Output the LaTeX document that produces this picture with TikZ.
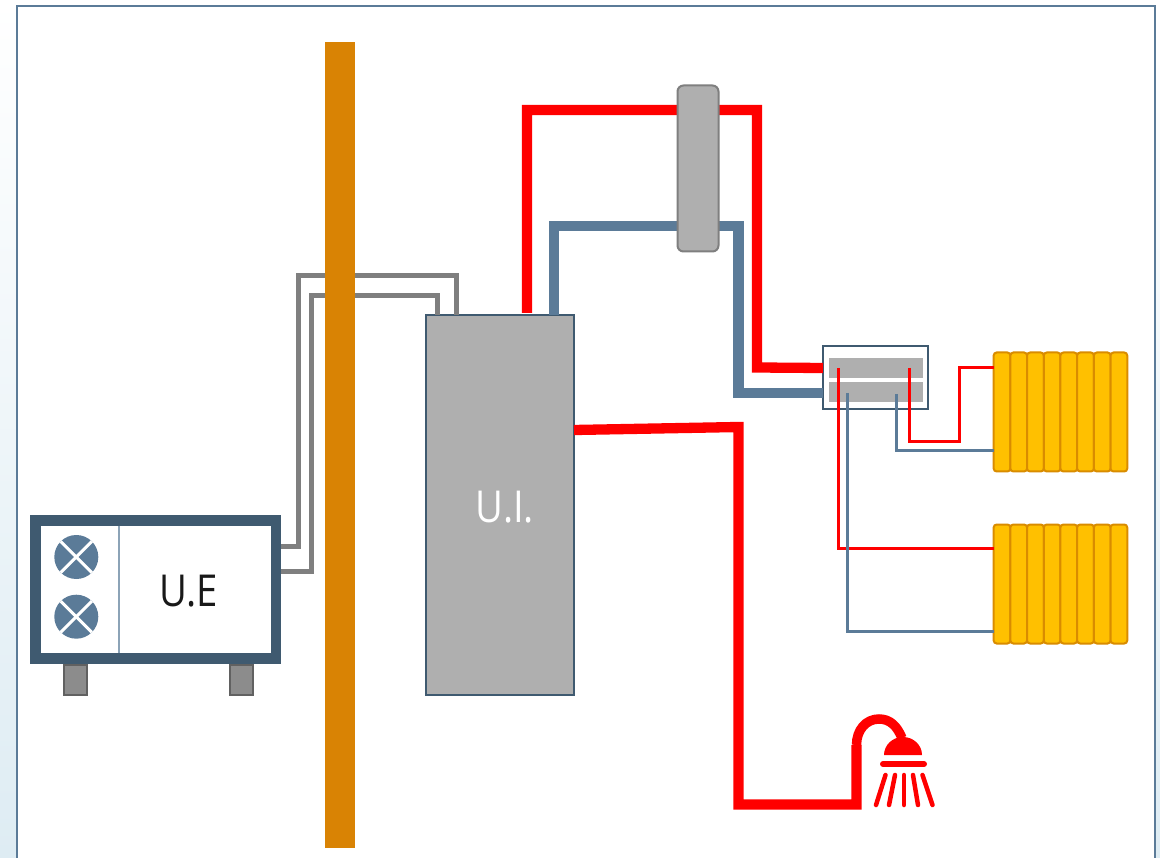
\documentclass[tikz,border=0pt]{standalone}
\usepackage{fontspec}
\newfontfamily\unitfont[FakeStretch=0.87]{Open Sans}
\usetikzlibrary{positioning}
\definecolor{cframe}{RGB}{91,123,152}
\definecolor{cdark}{RGB}{63,90,112}
\definecolor{cwall}{RGB}{217,131,4}
\definecolor{cgrey}{RGB}{175,175,175}
\definecolor{cline}{RGB}{127,127,127}
\definecolor{cfin}{RGB}{255,192,0}
\definecolor{cfinb}{RGB}{217,140,0}
\definecolor{cpage}{RGB}{222,236,243}

\begin{document}
\begin{tikzpicture}[
  x=1pt, y=-1pt,
  box/.style={rectangle, outer sep=0pt, inner sep=0pt},
  fan/.style={circle, fill=cframe, outer sep=0pt, inner sep=0pt, minimum size=44pt},
  foot/.style={box, fill=black!45, draw=black!62, line width=2pt,
               minimum width=23pt, minimum height=30pt},
  fin/.style={box, fill=cfin, draw=cfinb, line width=2pt, rounded corners=3pt,
              minimum width=16.7pt, minimum height=119pt},
  bar/.style={box, fill=cgrey, minimum width=94pt, minimum height=20pt},
  unittext/.style={font=\unitfont\fontsize{44}{44}\selectfont, inner sep=0pt},
  grey/.style={draw=cline, line width=5pt},
  hot/.style={draw=red, line width=10.3pt},
  cold/.style={draw=cframe, line width=10.3pt},
  hotthin/.style={draw=red, line width=3pt},
  coldthin/.style={draw=cframe, line width=3pt},
  ray/.style={draw=red, line width=4.5pt, line cap=round}
]
\useasboundingbox (0,0) rectangle (1160,858);

% ---------- page and frame ----------
\shade[top color=white, bottom color=cpage] (0,0) rectangle (1160,858);
\fill[white] (16.5,6.5) rectangle (1154.5,858);
\draw[cframe, line width=2pt] (16.5,858) |- (1154.5,6.5) -- (1154.5,858);

% ---------- main units ----------
\node[box, outer sep=5.25pt, minimum width=240.5pt, minimum height=138pt, draw=cdark,
      line width=10.5pt, fill=white] (ue) at (155.75,589.5) {};
\node[box, minimum width=148pt, minimum height=379pt, fill=cgrey, draw=cdark,
      line width=2pt] (ui) at (500,505) {};

% outside to inside lines, they pass behind the wall
\coordinate (ueA) at (ue.east |- 0,546);
\coordinate (ueB) at (ue.east |- 0,571);
\coordinate (uiA) at (ui.north -| 456,0);
\coordinate (uiB) at (ui.north -| 437.5,0);
\coordinate (bendA) at (298,276);
\coordinate (bendB) at (311.5,295.5);
\draw[grey] (ueA) -| (bendA) -| (uiA);
\draw[grey] (ueB) -| (bendB) -| (uiB);

% ---------- wall ----------
\node[box, fill=cwall, minimum width=29.5pt, minimum height=806pt] (wall) at (339.75,445) {};

% ---------- outside unit ----------
\coordinate (divtop) at (119,525.7);
\coordinate (divbot) at (119,653);
\draw[cframe!70, line width=1.3pt] (divtop) -- (divbot);
\node[fan] (fan1) at (76.3,557) {};
\node[fan] (fan2) at (76.3,616.7) {};
\foreach \n in {fan1,fan2} {
  \draw[white, line width=3pt] (\n.north west) -- (\n.south east);
  \draw[white, line width=3pt] (\n.north east) -- (\n.south west);
}
\node[foot] (foot1) at (75.7,680) {};
\node[foot] (foot2) at (241.3,680) {};
\node[unittext, text=black!90] (uelabel) at (189,591) {U.E};
\node[unittext, text=white] (uilabel) at (505,507) {U.I.};

% ---------- manifold ----------
\node[box, fill=white, draw=cdark, line width=2pt, minimum width=105pt, minimum height=63pt]
  (mani) at (875.5,377.5) {};
\node[bar] (bartop) at (875.7,368) {};
\node[bar] (barbot) at (875.7,392.5) {};

% ---------- thick pipes ----------
\coordinate (hotA) at (527,110);
\coordinate (hotB) at (757,110);
\coordinate (hotC) at (757,367.5);
\coordinate (hotD) at (mani.west |- 0,368);
\coordinate (coldA) at (554,226);
\coordinate (coldB) at (738.5,226);
\coordinate (coldC) at (738.5,393);
\coordinate (coldD) at (mani.west |- 0,393);
\coordinate (hotout) at (527,313);
\coordinate (coldout) at (ui.north -| 554,0);
\draw[hot] (hotout) -- (hotA) -- (hotB) -- (hotC) -- (hotD);
\draw[cold] (coldout) -- (coldA) -- (coldB) -- (coldC) -- (coldD);
\node[box, fill=cgrey, draw=cline, line width=2pt, rounded corners=6pt,
      minimum width=41pt, minimum height=166pt] (tank) at (698,168.5) {};

% ---------- radiators ----------
\node[fin] (ra1) at (1002,412) {};
\node[fin] (rb1) at (1002,584) {};
\foreach \a/\b in {1/2,2/3,3/4,4/5,5/6,6/7,7/8} {
  \node[fin, right=0pt of ra\a] (ra\b) {};
  \node[fin, right=0pt of rb\a] (rb\b) {};
}

% ---------- thin lines to radiators ----------
\coordinate (tapA) at (838.3,368);
\coordinate (tapB) at (909,368);
\coordinate (tapC) at (847.7,393);
\coordinate (tapD) at (896,394);
\coordinate (riseB) at (959.5,442);
\draw[hotthin] (tapA) |- (rb1.west |- 0,548);
\draw[coldthin] (tapC) |- (rb1.west |- 0,631);
\draw[hotthin] (tapB) |- (riseB) |- (ra1.west |- 0,367.7);
\draw[coldthin] (tapD) |- (ra1.west |- 0,451);

% ---------- shower ----------
\coordinate (showerA) at (738.5,427);
\coordinate (showerB) at (738.5,804.5);
\coordinate (showerC) at (856.5,804.5);
\coordinate (showerD) at (856.5,745);
\coordinate (uiout) at (ui.east |- 0,430);
\coordinate (neck) at (902,738);
\draw[hot] (uiout) -- (showerA) -- (showerB) -- (showerC) -- (showerD);
\draw[draw=red, line width=9.5pt] (showerD) .. controls (856.5,730) and (866,719) .. (879,719)
  .. controls (890,719) and (897,726) .. (neck);
\fill[red] (884,755) arc[start angle=180, end angle=0, x radius=19pt, y radius=18pt] -- cycle;
\coordinate (rodL) at (883,764);
\coordinate (rodR) at (924,764);
\draw[red, line width=6pt, line cap=round] (rodL) -- (rodR);
\foreach \t/\b in {885.5/876,895/889,904/904,913/918,922.5/932.5}
  \draw[ray] (\t,775) -- (\b,805);

\end{tikzpicture}
\end{document}
